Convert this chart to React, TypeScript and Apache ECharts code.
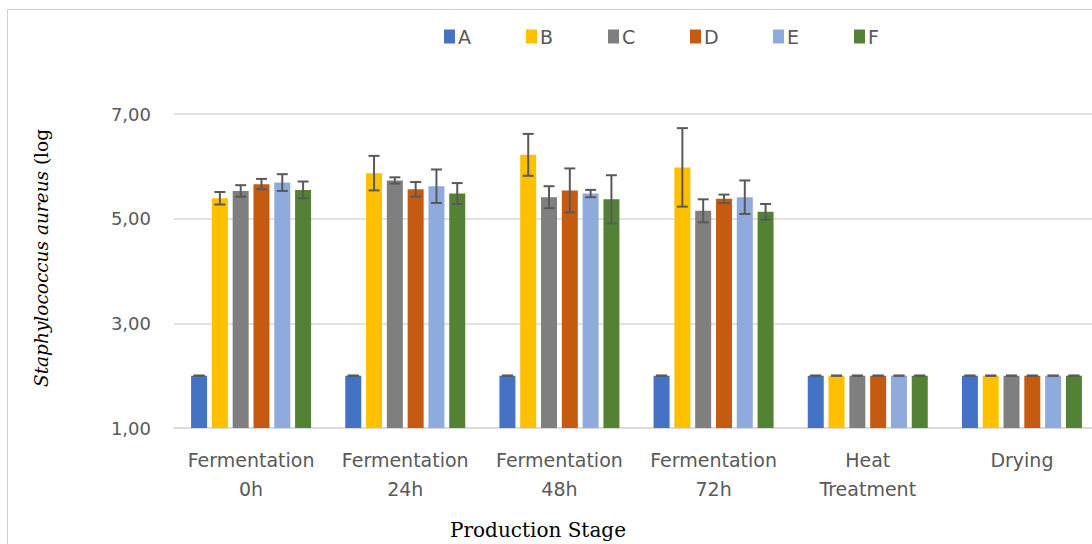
import React, { useEffect, useRef } from "react";
import * as echarts from "echarts";

const categories = [
  "Fermentation\n0h",
  "Fermentation\n24h",
  "Fermentation\n48h",
  "Fermentation\n72h",
  "Heat\nTreatment",
  "Drying",
];
const seriesNames = ["A", "B", "C", "D", "E", "F"];
const colors = ["#4472C4", "#FFC000", "#7F7F7F", "#C55A11", "#8FAADC", "#548235"];

const valuesA = [2.0, 2.0, 2.0, 2.0, 2.0, 2.0];
const valuesB = [5.39, 5.87, 6.22, 5.98, 2.0, 2.0];
const valuesC = [5.53, 5.73, 5.41, 5.15, 2.0, 2.0];
const valuesD = [5.66, 5.56, 5.54, 5.38, 2.0, 2.0];
const valuesE = [5.69, 5.62, 5.48, 5.41, 2.0, 2.0];
const valuesF = [5.55, 5.48, 5.37, 5.13, 2.0, 2.0];

const errA = [0, 0, 0, 0, 0, 0];
const errB = [0.12, 0.33, 0.4, 0.75, 0, 0];
const errC = [0.11, 0.06, 0.21, 0.22, 0, 0];
const errD = [0.1, 0.14, 0.42, 0.08, 0, 0];
const errE = [0.16, 0.32, 0.07, 0.32, 0, 0];
const errF = [0.16, 0.2, 0.46, 0.15, 0, 0];

const yTicks = { min: 1, max: 7, interval: 2 };

const allValues = [valuesA, valuesB, valuesC, valuesD, valuesE, valuesF];
const allErrs = [errA, errB, errC, errD, errE, errF];

const legendLefts = [444, 526, 608, 690, 773, 854];

export default function App() {
  const ref = useRef<HTMLDivElement>(null);
  useEffect(() => {
    if (!ref.current) return;
    const chart = echarts.init(ref.current, undefined, { renderer: "svg" });
    const barWidth = 16;
    const gapPct = 0.3;
    const pitch = barWidth * (1 + gapPct);

    const barSeries: any[] = seriesNames.map((name, i) => ({
      name,
      type: "bar",
      data: allValues[i],
      barWidth,
      barGap: "30%",
      itemStyle: { color: colors[i] },
      z: 2,
    }));

    const errSeries: any[] = seriesNames.map((name, i) => ({
      name: "err" + name,
      type: "custom",
      z: 5,
      data: allValues[i].map((v, k) => [k, v - allErrs[i][k], v + allErrs[i][k]]),
      encode: { x: 0, y: [1, 2] },
      renderItem: (params: any, api: any) => {
        const c = api.value(0);
        const lo = api.coord([c, api.value(1)]);
        const hi = api.coord([c, api.value(2)]);
        const x = lo[0] + (i - 2.5) * pitch;
        const hw = 5.5;
        const style = { stroke: "#595959", lineWidth: 2 };
        return {
          type: "group",
          children: [
            { type: "line", shape: { x1: x, y1: lo[1], x2: x, y2: hi[1] }, style },
            { type: "line", shape: { x1: x - hw, y1: lo[1], x2: x + hw, y2: lo[1] }, style },
            { type: "line", shape: { x1: x - hw, y1: hi[1], x2: x + hw, y2: hi[1] }, style },
          ],
        };
      },
    }));

    const legends = seriesNames.map((name, i) => ({
      data: [name],
      left: legendLefts[i],
      top: 27,
      padding: 0,
      itemWidth: 11,
      itemHeight: 14,
      itemGap: 0,
      icon: "rect",
      selectedMode: false,
      textStyle: { color: "#595959", fontSize: 19, fontFamily: "DejaVu Sans", padding: [0, 0, 0, -2] },
    }));

    chart.setOption({
      animation: false,
      backgroundColor: "#ffffff",
      legend: legends,
      grid: { left: 174, right: 0, top: 114, bottom: 116, containLabel: false },
      xAxis: {
        type: "category",
        data: categories,
        axisTick: { show: false },
        axisLine: { lineStyle: { color: "#d9d9d9", width: 1.5 } },
        axisLabel: {
          color: "#595959",
          fontSize: 19,
          fontFamily: "DejaVu Sans",
          lineHeight: 29,
          margin: 17,
          interval: 0,
        },
      },
      yAxis: {
        type: "value",
        min: yTicks.min,
        max: yTicks.max,
        interval: yTicks.interval,
        axisLine: { show: false },
        axisTick: { show: false },
        splitLine: { lineStyle: { color: "#d9d9d9", width: 1.5 } },
        axisLabel: {
          color: "#595959",
          fontSize: 18,
          fontFamily: "DejaVu Sans",
          margin: 23,
          formatter: (v: number) => v.toFixed(2).replace(".", ","),
        },
      },
      graphic: [
        {
          type: "rect",
          silent: true,
          shape: { x: 7.5, y: 9.5, width: 1200, height: 700 },
          style: { fill: "none", stroke: "#d0d0d0", lineWidth: 1 },
          z: -10,
        },
        {
          type: "text",
          x: 41,
          y: 258,
          rotation: Math.PI / 2,
          style: {
            text: "{i|Staphylococcus aureus} (log",
            fill: "#000000",
            fontFamily: "DejaVu Serif",
            fontSize: 18.5,
            align: "center",
            verticalAlign: "middle",
            rich: {
              i: { fontStyle: "italic", fontFamily: "DejaVu Serif", fontSize: 18.5, fill: "#000000" },
            },
          },
        },
        {
          type: "text",
          x: 538,
          y: 530,
          style: {
            text: "Production Stage",
            fill: "#000000",
            fontFamily: "DejaVu Serif",
            fontSize: 20,
            align: "center",
            verticalAlign: "middle",
          },
        },
      ],
      series: [...barSeries, ...errSeries],
    });
    return () => chart.dispose();
  }, []);
  return (
    <div style={{ position: "absolute", left: 0, top: 0, width: 1092, height: 544, overflow: "hidden" }}>
      <div ref={ref} style={{ position: "absolute", left: 0, top: 0, width: 1099, height: 544 }} />
    </div>
  );
}
